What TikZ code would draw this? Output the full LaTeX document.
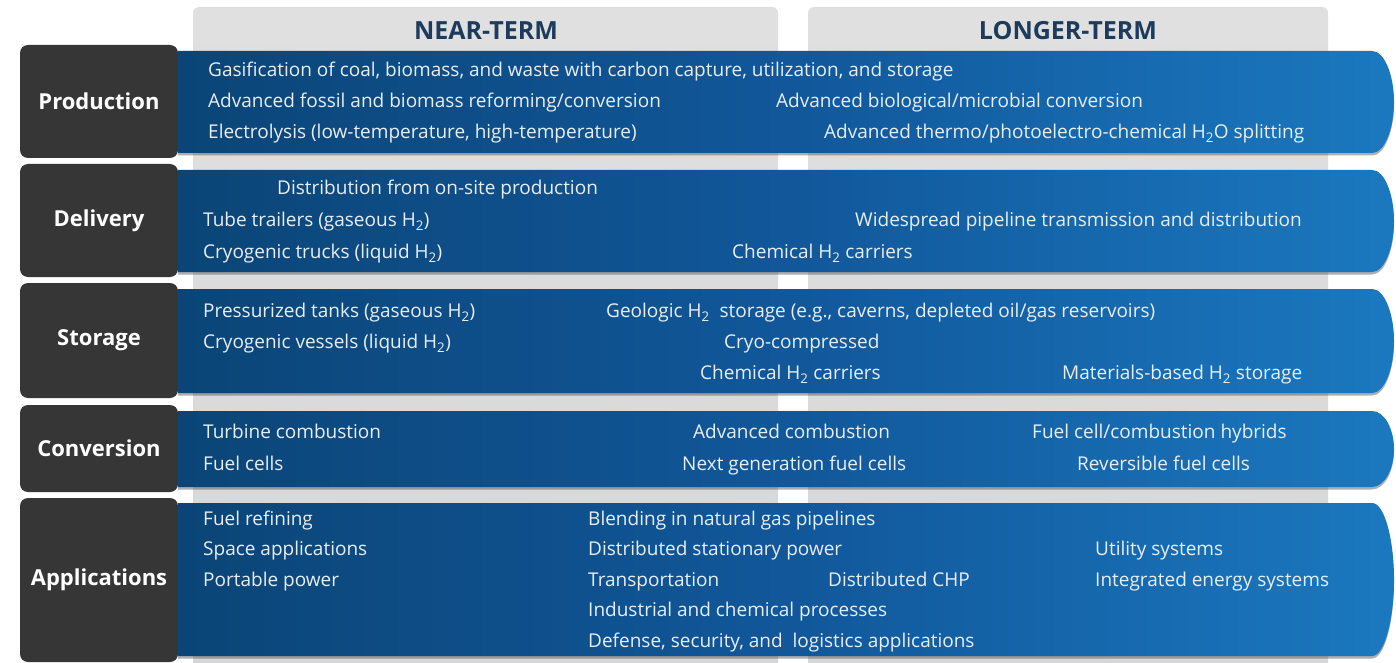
\documentclass[tikz,border=0pt]{standalone}
\usepackage{fontspec}
\setmainfont{Open Sans}
\usetikzlibrary{shadows}
\definecolor{bandL}{HTML}{0B4577}
\definecolor{bandM}{HTML}{11579A}
\definecolor{bandR}{HTML}{1B78BF}
\definecolor{boxcol}{HTML}{363636}
\definecolor{colgray}{HTML}{D6D6D6}
\definecolor{colgrayT}{HTML}{E0E0E0}
\definecolor{headcol}{HTML}{1D3B5C}
\definecolor{itemcol}{HTML}{E8EEF6}
\newcommand{\hband}[2]{%
  \path[drop shadow={shadow xshift=0pt,shadow yshift=-2.5pt,opacity=0.45,fill=black!70},
        left color=bandL, right color=bandR, middle color=bandM]
    (178,#1) -- (1372,#1)
    .. controls (1385,#1) and (1394,{(#1+#2)/2-0.25*(#2-#1)}) .. (1394,{(#1+#2)/2})
    .. controls (1394,{(#1+#2)/2+0.25*(#2-#1)}) and (1385,#2) .. (1372,#2)
    -- (178,#2) -- cycle;}
\begin{document}
\begin{tikzpicture}[x=1pt,y=-1pt,
  itemtext/.style={anchor=west, inner sep=0pt, text=itemcol, text height=13.5pt, text depth=4.5pt,
     yshift=-2pt, font=\fontsize{19}{22}\selectfont},
  rowlabel/.style={rounded corners=8pt, fill=boxcol, text=white, minimum width=158pt,
     inner sep=0pt, font=\bfseries\fontsize{22}{25}\selectfont},
  header/.style={text=headcol, inner sep=0pt, font=\bfseries\fontsize{25}{28}\selectfont}]
\useasboundingbox (0,0) rectangle (1396,663);
\fill[white] (0,0) rectangle (1396,663);
\clip (0,0) rectangle (1396,663);
% columns
\shade[top color=colgrayT, bottom color=colgray, rounded corners=6pt] (193,7) rectangle (778,700);
\shade[top color=colgrayT, bottom color=colgray, rounded corners=6pt] (808,7) rectangle (1328,700);
\node[header] (near) at (486,31) {NEAR-TERM};
\node[header] (longer) at (1068,31) {LONGER-TERM};
% label boxes
\node[rowlabel, minimum height=113pt] (lprod) at (99,101.5) {Production};
\node[rowlabel, minimum height=113pt] (ldel) at (99,220.5) {Delivery};
\node[rowlabel, minimum height=115pt] (lsto) at (99,340.5) {Storage};
\node[rowlabel, minimum height=87pt] (lcon) at (99,448.5) {Conversion};
\node[rowlabel, minimum height=164pt] (lapp) at (99,580) {Applications};
% bands
\hband{51}{153}
\hband{170}{272}
\hband{289}{393}
\hband{411}{487}
\hband{503}{656}
% Production
\node[itemtext] (p1) at (208,70) {Gasification of coal, biomass, and waste with carbon capture, utilization, and storage};
\node[itemtext] (p2) at (208,101) {Advanced fossil and biomass reforming/conversion};
\node[itemtext] (p3) at (208,132) {Electrolysis (low-temperature, high-temperature)};
\node[itemtext] (p4) at (776,101) {Advanced biological/microbial conversion};
\node[itemtext] (p5) at (824,132) {Advanced thermo/photoelectro-chemical H\textsubscript{2}O splitting};
% Delivery
\node[itemtext] (d1) at (277,188) {Distribution from on-site production};
\node[itemtext] (d2) at (203,220) {Tube trailers (gaseous H\textsubscript{2})};
\node[itemtext] (d3) at (203,252) {Cryogenic trucks (liquid H\textsubscript{2})};
\node[itemtext] (d4) at (855,220) {Widespread pipeline transmission and distribution};
\node[itemtext] (d5) at (732,252) {Chemical H\textsubscript{2} carriers};
% Storage
\node[itemtext] (s1) at (203,311) {Pressurized tanks (gaseous H\textsubscript{2})};
\node[itemtext] (s2) at (203,342) {Cryogenic vessels (liquid H\textsubscript{2})};
\node[itemtext] (s3) at (606,311) {Geologic H\textsubscript{2}\ \ storage (e.g., caverns, depleted oil/gas reservoirs)};
\node[itemtext] (s4) at (724,342) {Cryo-compressed};
\node[itemtext] (s5) at (700,373) {Chemical H\textsubscript{2} carriers};
\node[itemtext] (s6) at (1062,373) {Materials-based H\textsubscript{2} storage};
% Conversion
\node[itemtext] (c1) at (203,432) {Turbine combustion};
\node[itemtext] (c2) at (203,464) {Fuel cells};
\node[itemtext] (c3) at (693,432) {Advanced combustion};
\node[itemtext] (c4) at (682,464) {Next generation fuel cells};
\node[itemtext] (c5) at (1032,432) {Fuel cell/combustion hybrids};
\node[itemtext] (c6) at (1077,464) {Reversible fuel cells};
% Applications
\node[itemtext] (a1) at (203,519) {Fuel refining};
\node[itemtext] (a2) at (203,549) {Space applications};
\node[itemtext] (a3) at (203,580) {Portable power};
\node[itemtext] (a4) at (588,519) {Blending in natural gas pipelines};
\node[itemtext] (a5) at (588,549) {Distributed stationary power};
\node[itemtext] (a6) at (588,580) {Transportation};
\node[itemtext] (a7) at (828,580) {Distributed CHP};
\node[itemtext] (a8) at (588,610) {Industrial and chemical processes};
\node[itemtext] (a9) at (588,641) {Defense, security, and\ \ logistics applications};
\node[itemtext] (a10) at (1095,549) {Utility systems};
\node[itemtext] (a11) at (1095,580) {Integrated energy systems};
\end{tikzpicture}
\end{document}
